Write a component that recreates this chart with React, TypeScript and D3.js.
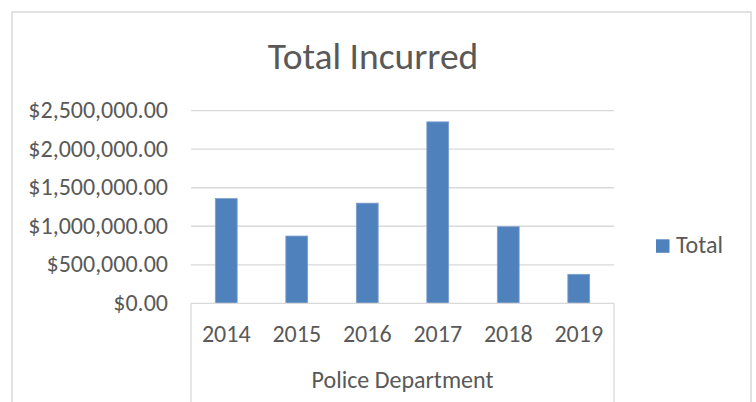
import * as d3 from 'd3';

// chart values
const years = ['2014', '2015', '2016', '2017', '2018', '2019'];
const totals = [1360000, 873000, 1300000, 2355000, 994000, 376000];
const yTicks = [0, 500000, 1000000, 1500000, 2000000, 2500000];
const seriesName = 'Total';
const groupLabel = 'Police Department';
const title = 'Total Incurred';

const W = 756;
const H = 402;
const plot = { left: 191, right: 614, top: 110.7, bottom: 303.3 };
const font = "Carlito, 'Open Sans', sans-serif";
const textColor = '#595959';
const gridColor = '#D9D9D9';
const barColor = '#4F81BD';

export default function App() {
  const x = d3.scaleBand<string>()
    .domain(years)
    .range([plot.left, plot.right]);

  const y = d3.scaleLinear()
    .domain([0, 2500000])
    .range([plot.bottom, plot.top]);

  const fmt = d3.format('$,.2f');
  const barW = x.bandwidth() * 0.31;

  return (
    <svg width={W} height={H} style={{ position: 'absolute', left: 0, top: 0 }} fontFamily={font}>
      <rect x={0} y={0} width={W} height={H} fill="#fff" />
      {/* chart area border */}
      <rect x={12} y={12} width={739} height={400} fill="none" stroke={gridColor} strokeWidth={1.5} />

      <text x={373} y={69.3} textAnchor="middle" fontSize={37.5} fill={textColor}>{title}</text>

      {/* gridlines + value labels */}
      {yTicks.map(t => (
        <g key={t}>
          {t > 0 && (
            <line x1={plot.left} x2={plot.right} y1={y(t)} y2={y(t)} stroke={gridColor} strokeWidth={1.3} />
          )}
          <text x={168} y={y(t)} dy="0.32em" textAnchor="end" fontSize={24} fill={textColor}>{fmt(t)}</text>
        </g>
      ))}

      {/* bars */}
      {years.map((yr, i) => (
        <rect
          key={yr}
          x={(x(yr) as number) + x.bandwidth() / 2 - barW / 2}
          y={y(totals[i])}
          width={barW}
          height={y(0) - y(totals[i])}
          fill={barColor}
          stroke="#7EA0CF"
          strokeWidth={0.8}
        />
      ))}

      {/* category axis, multi-level */}
      <line x1={plot.left} x2={plot.right} y1={plot.bottom} y2={plot.bottom} stroke={gridColor} strokeWidth={1.3} />
      <line x1={plot.left} x2={plot.left} y1={plot.bottom} y2={H} stroke={gridColor} strokeWidth={1.3} />
      <line x1={plot.right} x2={plot.right} y1={plot.bottom} y2={H} stroke={gridColor} strokeWidth={1.3} />
      {years.map(yr => (
        <text key={yr} x={(x(yr) as number) + x.bandwidth() / 2} y={341.7} textAnchor="middle" fontSize={24} fill={textColor}>{yr}</text>
      ))}
      <text x={(plot.left + plot.right) / 2} y={388.3} textAnchor="middle" fontSize={24} fill={textColor}>{groupLabel}</text>

      {/* legend */}
      <rect x={656} y={239.3} width={13.5} height={13.5} fill={barColor} />
      <text x={676} y={252.7} fontSize={24} fill={textColor}>{seriesName}</text>
    </svg>
  );
}
